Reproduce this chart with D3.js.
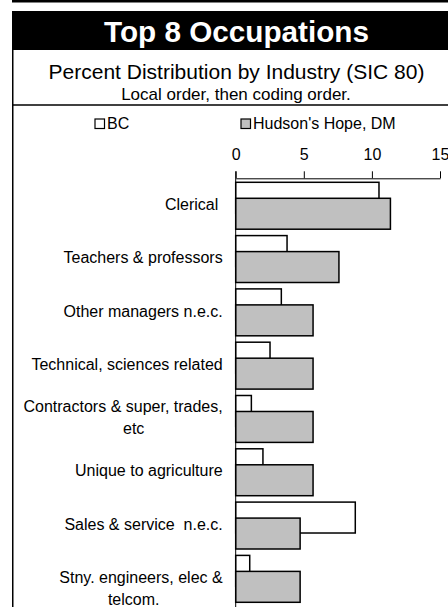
<!DOCTYPE html>
<html>
<head>
<meta charset="utf-8">
<script src="https://cdn.jsdelivr.net/npm/d3@7"></script>
<style>
  body { margin: 0; background: #fff; }
  svg { display: block; font-family: "Liberation Sans", Arial, sans-serif; }
</style>
</head>
<body>
<div class="chart"></div>
<script>
var width = 448, height = 607;

// data
var categories = ["Clerical ", "Teachers & professors", "Other managers n.e.c.", "Technical, sciences related",
  "Contractors & super, trades,\netc", "Unique to agriculture", "Sales & service  n.e.c.", "\nStny. engineers, elec &\ntelcom."];
var bcValues = [10.52, 3.77, 3.35, 2.52, 1.15, 2.0, 8.78, 1.03];
var hhValues = [11.36, 7.58, 5.68, 5.68, 5.68, 5.68, 4.73, 4.73];
var seriesNames = ["BC", "Hudson's Hope, DM"];
var tickValues = [0, 5, 10, 15];

var svg = d3.select(".chart").append("svg").attr("width", width).attr("height", height);

// frame
svg.append("rect").attr("x", 12).attr("y", 0).attr("width", width).attr("height", 2.5).attr("fill", "#000");
svg.append("rect").attr("x", 12).attr("y", 11).attr("width", width).attr("height", 39).attr("fill", "#000");
svg.append("line").attr("x1", 12.75).attr("x2", 12.75).attr("y1", 50).attr("y2", height)
  .attr("stroke", "#000").attr("stroke-width", 1.5);
svg.append("line").attr("x1", 12).attr("x2", width).attr("y1", 105).attr("y2", 105)
  .attr("stroke", "#000").attr("stroke-width", 1.5);

// titles
svg.append("text").attr("x", 236.5).attr("y", 42).attr("text-anchor", "middle")
  .style("font-weight", "bold").style("font-size", "29.7px").style("fill", "#fff")
  .text("Top 8 Occupations");
svg.append("text").attr("x", 236.5).attr("y", 78.5).attr("text-anchor", "middle")
  .style("font-size", "21px").text("Percent Distribution by Industry (SIC 80)");
svg.append("text").attr("x", 236).attr("y", 99.5).attr("text-anchor", "middle")
  .style("font-size", "17px").text("Local order, then coding order.");

// scales
var x = d3.scaleLinear().domain([0, 15]).range([235.7, 440]);
var y = d3.scaleBand().domain(categories).range([178.3, 604.7]);
var bw = y.bandwidth();

// legend
var legendX = [95, 241];
var legendFill = ["#fff", "#c0c0c0"];
var legend = svg.append("g").selectAll("g").data(seriesNames).enter().append("g")
  .attr("transform", function(d, i) { return "translate(" + legendX[i] + ",119)"; });
legend.append("rect").attr("width", 9.5).attr("height", 9.5)
  .attr("fill", function(d, i) { return legendFill[i]; })
  .attr("stroke", "#000").attr("stroke-width", 1.2);
legend.append("text").attr("x", 12).attr("y", 10).style("font-size", "16px").text(function(d) { return d; });

// x axis on top
var xAxis = svg.append("g").attr("transform", "translate(0,178.3)")
  .call(d3.axisTop(x).tickValues(tickValues).tickSize(7).tickSizeOuter(0).tickPadding(11));
xAxis.selectAll("text").style("font-size", "16px").style("fill", "#000")
  .style("font-family", "'Liberation Sans', Arial, sans-serif");
xAxis.selectAll("line, path").attr("stroke", "#000");

// bars
var groups = svg.append("g").selectAll("g").data(categories).enter().append("g");
groups.append("rect")
  .attr("x", x(0))
  .attr("y", function(d) { return y(d) + bw * 0.075; })
  .attr("width", function(d, i) { return x(bcValues[i]) - x(0); })
  .attr("height", bw * 0.58)
  .attr("fill", "#fff").attr("stroke", "#000").attr("stroke-width", 1.5);
groups.append("rect")
  .attr("x", x(0))
  .attr("y", function(d) { return y(d) + bw * 0.375; })
  .attr("width", function(d, i) { return x(hhValues[i]) - x(0); })
  .attr("height", bw * 0.58)
  .attr("fill", "#c0c0c0").attr("stroke", "#000").attr("stroke-width", 1.5);

// y axis line
svg.append("line").attr("x1", x(0)).attr("x2", x(0)).attr("y1", 171.3).attr("y2", height)
  .attr("stroke", "#000").attr("stroke-width", 1);

// category labels
var labelX = x(0) - 13;
groups.each(function(d) {
  var lines = d.split("\n");
  var n = lines.length;
  var cy = y(d) + bw / 2;
  var first = true;
  lines.forEach(function(line, i) {
    if (!line) return;
    var t = d3.select(this).append("text")
      .attr("y", cy + (i - (n - 1) / 2) * 21.5 + 5)
      .style("font-size", "16px").style("white-space", "pre")
      .text(line);
    if (first) { t.attr("x", labelX).attr("text-anchor", "end"); first = false; }
    else { t.attr("x", labelX - 89).attr("text-anchor", "middle"); }
  }, this);
});
</script>
</body>
</html>
